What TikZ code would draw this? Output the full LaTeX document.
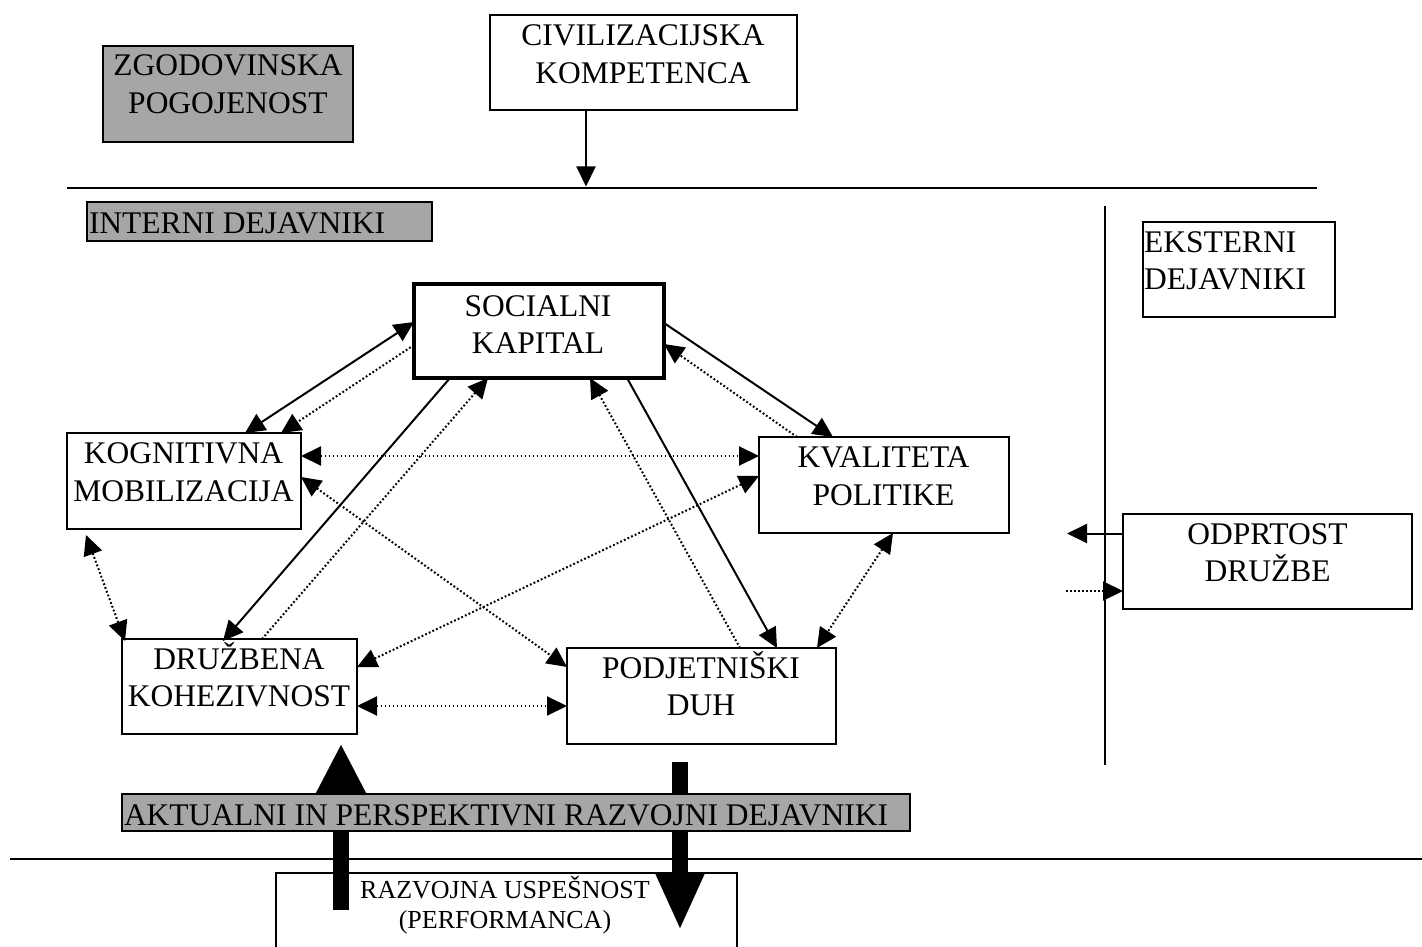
\documentclass[tikz,border=0pt]{standalone}
\usepackage{fontspec}
\setmainfont{Liberation Serif}
\usetikzlibrary{arrows.meta,calc}
\definecolor{boxgray}{RGB}{166,166,166}
\begin{document}
\begin{tikzpicture}[x=1pt,y=-1pt,
  >={Triangle[length=20pt,width=19pt]},
  box/.style={draw, line width=2pt, outer sep=0pt, inner sep=0pt},
  lbl/.style={inner sep=0pt, outer sep=0pt, align=center, font=\fontsize{31.5}{37.3}\selectfont},
  lbll/.style={inner sep=0pt, outer sep=0pt, align=left, font=\fontsize{31.5}{37.3}\selectfont},
  conn/.style={line width=2pt},
  dotconn/.style={line width=2pt, dash pattern=on 1.8pt off 2.2pt},
  bigarrow/.style={line width=16pt, -{Triangle[length=#1,width=50pt,line width=0.1pt]}},
  rule/.style={line width=2pt}
]
\useasboundingbox (0,0) rectangle (1422,947);
\fill[white] (0,0) rectangle (1422,947);

% boxes (text nodes anchored at the baseline of their last line)
\node[box, fill=boxgray, minimum width=250pt, minimum height=96pt] (zg) at (228,94) {};
\node[lbl, anchor=base] (zgt) at (228,113.3) {ZGODOVINSKA\\POGOJENOST};

\node[box, minimum width=307pt, minimum height=95pt] (civ) at (643.5,62.5) {};
\node[lbl, anchor=base] (civt) at (643,83.3) {CIVILIZACIJSKA\\KOMPETENCA};

\node[box, fill=boxgray, minimum width=345pt, minimum height=39pt] (int) at (259.5,221.5) {};
\node[lbll, anchor=base west] (intt) at (89,233.3) {INTERNI DEJAVNIKI};

\node[box, minimum width=192pt, minimum height=95pt] (eks) at (1239,269.5) {};
\node[lbll, anchor=base west] (ekst) at (1144,289.3) {EKSTERNI\\DEJAVNIKI};

\node[box, line width=4pt, minimum width=250pt, minimum height=94pt] (sk) at (539,331) {};
\node[lbl, anchor=base] (skt) at (538,353.3) {SOCIALNI\\KAPITAL};

\node[box, minimum width=234pt, minimum height=96pt] (kog) at (184,481) {};
\node[lbl, anchor=base] (kogt) at (183.5,501) {KOGNITIVNA\\MOBILIZACIJA};

\node[box, minimum width=250pt, minimum height=96pt] (kval) at (884,485) {};
\node[lbl, anchor=base] (kvalt) at (883.5,505) {KVALITETA\\POLITIKE};

\node[box, minimum width=289pt, minimum height=95pt] (odp) at (1267.5,561.5) {};
\node[lbl, anchor=base] (odpt) at (1267.5,581.7) {ODPRTOST\\DRUŽBE};

\node[box, minimum width=235pt, minimum height=95pt] (dru) at (239.5,686.5) {};
\node[lbl, anchor=base] (drut) at (239,706.7) {DRUŽBENA\\KOHEZIVNOST};

\node[box, minimum width=269pt, minimum height=96pt] (podj) at (701.5,696) {};
\node[lbl, anchor=base] (podjt) at (701,715.7) {PODJETNIŠKI\\DUH};

\node[box, minimum width=461pt, minimum height=87pt] (raz) at (506.5,916.5) {};
\node[lbl, anchor=base, font=\fontsize{26}{30}\selectfont] (razt) at (505,928) {RAZVOJNA USPEŠNOST\\(PERFORMANCA)};

% rules
\draw[rule] (67,187.5) -- (1317,187.5);
\draw[rule] (10,858.5) -- (1422,858.5);
\draw[rule] (1105,206) -- (1105,765);

% civilizacijska arrow
\coordinate (civend) at (586,186.5);
\draw[conn, ->] ($(civ.south west)+(96,0)$) -- (civend);

% solid connectors
\draw[conn, <->] ($(sk.north west)+(0,38)$) -- ($(kog.north west)+(178,0)$);
\draw[conn, ->] ($(sk.south west)+(36,0)$) -- ($(dru.north west)+(101,2)$);
\draw[conn, ->] ($(sk.south west)+(213,0)$) -- ($(podj.north west)+(210,0)$);
\draw[conn, ->] ($(sk.north east)+(0,39)$) -- ($(kval.north west)+(74,0)$);

% dotted connectors
\draw[dotconn, ->] ($(sk.north west)+(0,61)$) -- ($(kog.north west)+(214,0)$);
\draw[dotconn, <->] ($(kog.north east)+(0,23)$) -- ($(kval.north west)+(0,19)$);
\draw[dotconn, <->] ($(kog.north east)+(0,44)$) -- ($(podj.north west)+(0,19)$);
\draw[dotconn, ->] ($(dru.north west)+(140,0)$) -- ($(sk.south west)+(74,0)$);
\draw[dotconn, ->] ($(podj.north west)+(173,0)$) -- ($(sk.south west)+(176,0)$);
\draw[dotconn, ->] ($(kval.north west)+(38,0)$) -- ($(sk.north east)+(0,60)$);
\draw[dotconn, <->] ($(dru.north east)+(0,28)$) -- ($(kval.north west)+(0,39)$);
\draw[dotconn, <->] ($(kog.south west)+(19,6)$) -- ($(dru.north west)+(3,2)$);
\draw[dotconn, <->] ($(kval.south west)+(134,0)$) -- ($(podj.north west)+(250,0)$);
\draw[dotconn, <->] ($(dru.north east)+(0,67)$) -- ($(podj.north west)+(0,58)$);

% external
\coordinate (odpout) at (1067,533.5);
\coordinate (odpin) at (1066,591);
\draw[conn, ->] ($(odp.north west)+(0,19.5)$) -- (odpout);
\draw[dotconn, ->] (odpin) -- ($(odp.north west)+(0,77)$);

% big arrows
\coordinate (upbot) at (341,910);
\coordinate (uptop) at (341,745);
\coordinate (dntop) at (680,762);
\coordinate (dnbot) at (680,928);
\draw[bigarrow=48pt] (upbot) -- (uptop);
\draw[bigarrow=55pt] (dntop) -- (dnbot);

% aktualni label box on top
\node[box, fill=boxgray, minimum width=788pt, minimum height=37pt] (akt) at (516,812.5) {};
\node[lbll, anchor=base west] (aktt) at (124,825) {AKTUALNI IN PERSPEKTIVNI RAZVOJNI DEJAVNIKI};
\end{tikzpicture}
\end{document}
